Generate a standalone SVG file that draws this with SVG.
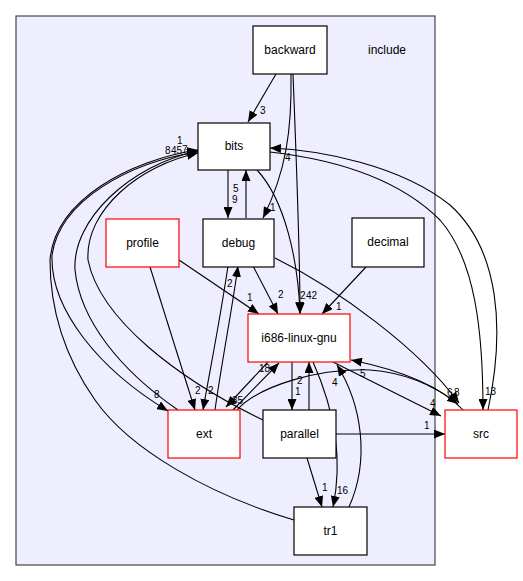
<svg xmlns="http://www.w3.org/2000/svg" width="523" height="581" viewBox="0 0 523 581">
<defs>
<marker id="ah" markerWidth="11" markerHeight="9" refX="11" refY="4.5" orient="auto" markerUnits="userSpaceOnUse">
<path d="M0,0 L11,4.5 L0,9 z" fill="#000"/>
</marker>
<style>
.node rect{fill:#fff;stroke:#000;stroke-width:1.2}
.node.red rect{stroke:#ff0000}
.node text{font-family:"Liberation Sans",Arial,sans-serif;font-size:12px;text-anchor:middle;fill:#000}
.edges path{fill:none;stroke:#000;stroke-width:1.1;marker-end:url(#ah)}
.edges text{font-family:"Liberation Sans",Arial,sans-serif;font-size:10px;fill:#000}
</style>
</defs>
<rect width="523" height="581" fill="#fff"/>
<g id="cluster_include">
<rect x="16" y="16" width="419" height="549" fill="#eeeeff" stroke="#444" stroke-width="1.2"/>
<text x="387" y="54" style="font-family:'Liberation Sans',Arial,sans-serif;font-size:12px;text-anchor:middle">include</text>
</g>
<g class="edges" id="edges">
<path d="M276,74 L248,122"/>
<text x="260" y="114">3</text>
<path d="M291,74 C292,130 286,172 263,218"/>
<text x="270" y="211">1</text>
<path d="M293,74 C296,150 300,250 300,314"/>
<path d="M257,170 C285,200 298,260 300,313"/>
<text x="300" y="299">2</text>
<text x="306" y="299">42</text>
<path d="M228,170 L228,218"/>
<text x="232" y="203">9</text>
<path d="M246,218 L246,170"/>
<text x="233" y="192">5</text>
<path d="M488,410 C505,330 500,250 450,205 C400,165 320,150 270,148"/>
<text x="285" y="161">4</text>
<path d="M270,152 C340,160 400,180 440,220 C475,260 483,330 483,410"/>
<text x="485" y="395">13</text>
<path d="M294,520 C210,495 130,450 95,400 C60,350 50,300 50,260 C55,200 130,160 198,150"/>
<path d="M198,152 C130,162 60,200 52,255 C50,310 100,370 168,411"/>
<text x="154" y="398">8</text>
<path d="M178,410 C120,370 80,320 75,270 C72,220 130,165 198,151"/>
<path d="M263,420 C180,380 100,320 88,260 C85,210 140,165 198,153"/>
<text x="177" y="144">1</text>
<text x="165" y="154">8</text>
<text x="171" y="154">45</text>
<text x="182" y="153">7</text>
<path d="M179,260 L259,314"/>
<text x="247" y="301">1</text>
<path d="M253,266 L278,314"/>
<text x="278" y="298">2</text>
<path d="M366,267 L322,314"/>
<text x="336" y="310">1</text>
<path d="M150,267 L195,410"/>
<text x="195" y="394">2</text>
<path d="M228,266 C220,320 210,370 203,410"/>
<text x="208" y="394">2</text>
<path d="M215,410 C222,360 232,310 238,266"/>
<text x="227" y="287">2</text>
<path d="M233,410 L279,363"/>
<text x="259" y="372">18</text>
<path d="M268,362 L226,407"/>
<text x="232" y="404">35</text>
<path d="M237,410 C260,385 320,368 370,370 C410,373 440,390 458,404"/>
<text x="447" y="396">6</text>
<path d="M275,258 C340,290 420,350 459,403"/>
<text x="454" y="396">8</text>
<path d="M333,362 L441,416"/>
<text x="430" y="407">4</text>
<path d="M463,410 C440,385 400,370 351,360"/>
<text x="360" y="377">5</text>
<path d="M336,434 L445,434"/>
<text x="424" y="429">1</text>
<path d="M292,362 L292,410"/>
<text x="295" y="395">1</text>
<path d="M309,410 L309,362"/>
<text x="297" y="384">2</text>
<path d="M307,458 L322,507"/>
<text x="322" y="491">1</text>
<path d="M313,362 C330,400 345,450 333,507"/>
<text x="337" y="494">16</text>
<path d="M349,507 C370,460 362,405 337,365"/>
<text x="332" y="386">4</text>
</g>
<g id="node_backward" class="node"><rect x="253" y="26" width="74" height="48"/><text x="290" y="54">backward</text></g>
<g id="node_bits" class="node"><rect x="198" y="123" width="72" height="47"/><text x="234" y="150">bits</text></g>
<g id="node_profile" class="node red"><rect x="106" y="219" width="73" height="48"/><text x="142.5" y="247">profile</text></g>
<g id="node_debug" class="node"><rect x="203" y="219" width="71" height="48"/><text x="238.5" y="247">debug</text></g>
<g id="node_decimal" class="node"><rect x="352" y="218" width="72" height="49"/><text x="388" y="246">decimal</text></g>
<g id="node_i686" class="node red"><rect x="248" y="314" width="102" height="48"/><text x="299" y="342">i686-linux-gnu</text></g>
<g id="node_ext" class="node red"><rect x="168" y="410" width="72" height="48"/><text x="204" y="438">ext</text></g>
<g id="node_parallel" class="node"><rect x="263" y="410" width="73" height="48"/><text x="299.5" y="438">parallel</text></g>
<g id="node_src" class="node red"><rect x="445" y="410" width="72" height="48"/><text x="481" y="438">src</text></g>
<g id="node_tr1" class="node"><rect x="294" y="507" width="73" height="48"/><text x="330.5" y="535">tr1</text></g>
</svg>
